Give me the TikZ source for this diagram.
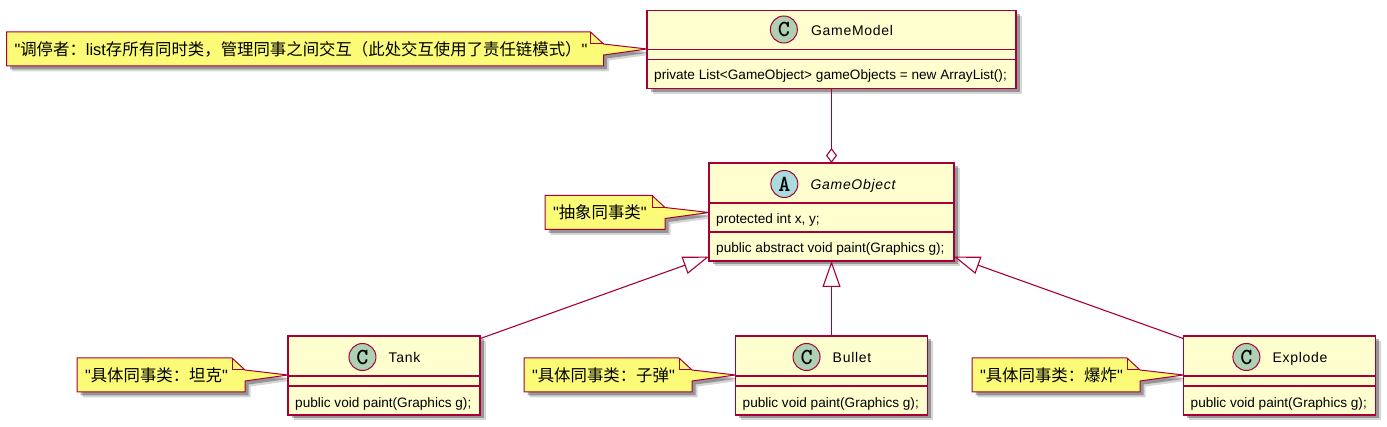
\documentclass[tikz,border=0pt]{standalone}
\usepackage{fontspec}
\setmainfont[Ligatures=TeXOff]{Liberation Sans}
\newfontfamily\cjk{Noto Sans CJK SC}
\newfontfamily\titlefont[LetterSpace=5]{Liberation Sans}
\usetikzlibrary{positioning,calc,shadows,backgrounds,arrows.meta}
\definecolor{umlline}{HTML}{A80036}
\definecolor{umlbox}{HTML}{FEFECE}
\definecolor{umlnote}{HTML}{FBFB77}
\definecolor{spotc}{HTML}{ADD1B2}
\definecolor{spota}{HTML}{A9DCDF}
\tikzset{
  softshadow/.style = {drop shadow={shadow xshift=5.5pt,shadow yshift=-5.5pt,fill=black,opacity=.16},
                       drop shadow={shadow xshift=3.5pt,shadow yshift=-3.5pt,fill=black,opacity=.3}},
  classbox/.style = {draw=umlline, line width=1.3pt, fill=umlbox, softshadow, inner sep=0pt, outer sep=0pt, minimum height=#1},
  classbox/.default = 79pt,
  classrule/.style = {draw=umlline, line width=1.1pt},
  titletext/.style = {inner sep=0pt, anchor=base, font=\titlefont\fontsize{14}{16}\selectfont},
  membertext/.style = {inner sep=0pt, anchor=base west, font=\fontsize{13.6}{15}\selectfont},
  spot/.style = {circle, draw=umlline, line width=1pt, minimum size=27pt, inner sep=0pt, font=\ttfamily\bfseries\fontsize{23}{23}\selectfont},
  notebox/.style = {text width=#1, inner xsep=8pt, inner ysep=0pt, outer sep=0pt, minimum height=34pt, align=left, font=\fontsize{16.4}{18}\selectfont},
  noteshape/.style = {draw=umlline, line width=1pt, fill=umlnote, softshadow, line join=miter},
  foldline/.style = {draw=umlline, line width=1pt},
  link/.style = {draw=umlline, line width=1.1pt},
  extends/.style = {link, {Triangle[open,fill=white,length=26pt,width=18pt]}-},
  holds/.style = {link, -{Diamond[open,fill=white,length=15pt,width=11pt]}}
}
% body of a note, drawn behind its text, with the tail up to a class
\newcommand{\notebody}[2]{
  \begin{pgfonlayer}{background}
    \draw[noteshape] (#1.north west) -- ($(#1.north east)+(-13,0)$) -- ($(#1.north east)+(0,12)$)
      -- ($(#1.east)+(0,-5)$) -- (#1.east -| #2.west) -- ($(#1.east)+(0,6)$)
      -- (#1.south east) -- (#1.south west) -- cycle;
    \draw[foldline] ($(#1.north east)+(-13,0)$) -- ($(#1.north east)+(-13,12)$) -- ($(#1.north east)+(0,12)$);
  \end{pgfonlayer}
}
\begin{document}
\begin{tikzpicture}[x=1pt,y=-1pt]
  \useasboundingbox (0,0) rectangle (1387,427);

  % mediator
  \node[classbox=78pt, minimum width=369pt] (gamemodel) at (831.5,49.5) {};
  \draw[classrule] ($(gamemodel.north west)+(0,39)$) -- ($(gamemodel.north east)+(0,39)$);
  \draw[classrule] ($(gamemodel.north west)+(0,49)$) -- ($(gamemodel.north east)+(0,49)$);
  \node[titletext] (gamemodeltitle) at ($(gamemodel.north)+(20.5,25)$) {GameModel};
  \node[spot, fill=spotc] (gamemodelspot) at ($(gamemodeltitle.base west)+(-27,-6)$) {C};
  \node[membertext] (gamemodelfield) at ($(gamemodel.north west)+(7,69)$) {private List<GameObject> gameObjects = new ArrayList();};

  % abstract colleague
  \node[classbox=98pt, minimum width=245pt] (gameobject) at (831.5,212) {};
  \draw[classrule] ($(gameobject.north west)+(0,40)$) -- ($(gameobject.north east)+(0,40)$);
  \draw[classrule] ($(gameobject.north west)+(0,69)$) -- ($(gameobject.north east)+(0,69)$);
  \node[titletext, font=\titlefont\itshape\fontsize{14}{16}\selectfont] (gameobjecttitle) at ($(gameobject.north)+(21.5,27)$) {GameObject};
  \node[spot, fill=spota] (gameobjectspot) at ($(gameobjecttitle.base west)+(-26,-6)$) {A};
  \node[membertext] (gameobjectfield) at ($(gameobject.north west)+(7,61)$) {protected int x, y;};
  \node[membertext] (gameobjectpaint) at ($(gameobject.north west)+(7,90)$) {public abstract void paint(Graphics g);};

  % concrete colleagues
  \foreach \cname/\cx/\ctitle in {tank/384/Tank, bullet/831.5/Bullet, explode/1279.5/Explode}{
    \node[classbox, minimum width=192pt] (\cname) at (\cx,375.5) {};
    \draw[classrule] ($(\cname.north west)+(0,40)$) -- ($(\cname.north east)+(0,40)$);
    \draw[classrule] ($(\cname.north west)+(0,50)$) -- ($(\cname.north east)+(0,50)$);
    \node[titletext] (\cname title) at ($(\cname.north)+(20.5,27)$) {\ctitle};
    \node[spot, fill=spotc] (\cname spot) at ($(\cname title.base west)+(-26,-6)$) {C};
    \node[membertext] (\cname paint) at ($(\cname.north west)+(7,71)$) {public void paint(Graphics g);};
  }

  % notes
  \node[notebox=581pt] (modelnote) at (305,49) {"{\cjk 调停者：}list{\cjk 存所有同时类，管理同事之间交互（此处交互使用了责任链模式）}"};
  \notebody{modelnote}{gamemodel}
  \node[notebox=104pt] (objectnote) at (605,212.5) {"{\cjk 抽象同事类}"};
  \notebody{objectnote}{gameobject}
  \node[notebox=152pt] (tanknote) at (161,375) {"{\cjk 具体同事类：坦克}"};
  \notebody{tanknote}{tank}
  \node[notebox=152pt] (bulletnote) at (608,375) {"{\cjk 具体同事类：子弹}"};
  \notebody{bulletnote}{bullet}
  \node[notebox=152pt] (explodenote) at (1056,375) {"{\cjk 具体同事类：爆炸}"};
  \notebody{explodenote}{explode}

  % connectors
  \draw[holds] (gamemodel.south) -- (gameobject.north);
  \draw[extends] (gameobject.200) -- (tank.21);
  \draw[extends] (gameobject.south) -- (bullet.north);
  \draw[extends] (gameobject.340) -- (explode.159);
\end{tikzpicture}
\end{document}
